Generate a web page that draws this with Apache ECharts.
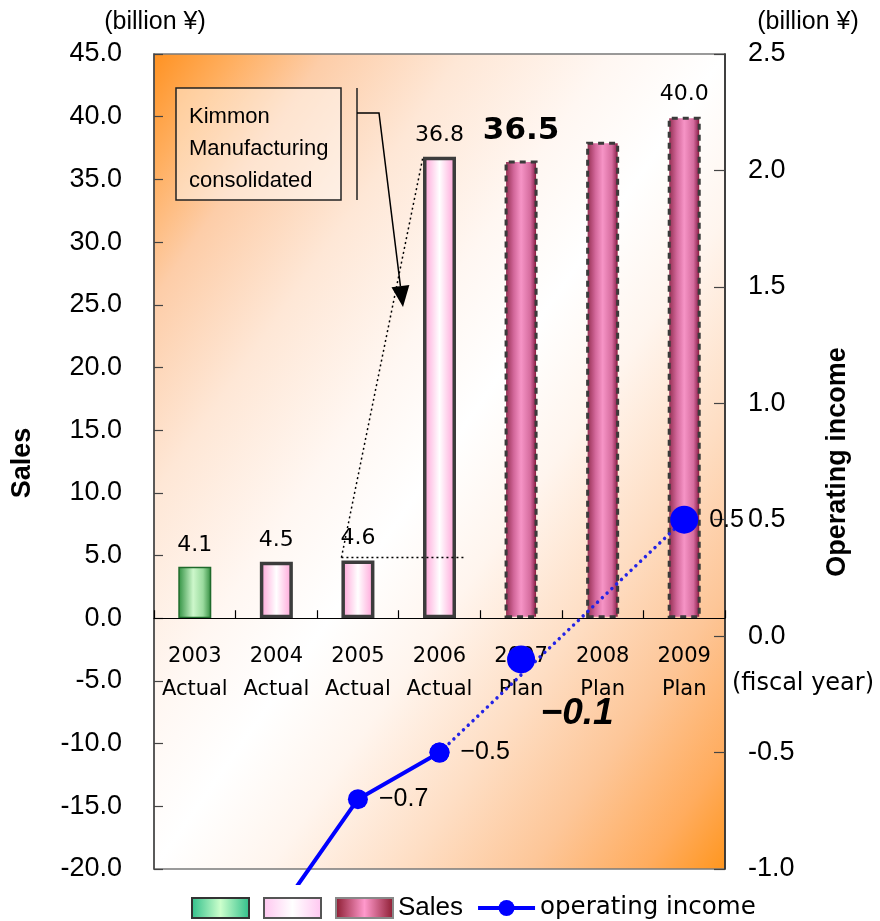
<!DOCTYPE html>
<html>
<head>
<meta charset="utf-8">
<title>Sales and operating income</title>
<script src="https://cdn.jsdelivr.net/npm/echarts@6/dist/echarts.min.js"></script>
<style>
  html, body { margin: 0; padding: 0; background: #ffffff; }
  #main { width: 880px; height: 921px; }
</style>
</head>
<body>
<div id="main"></div>
<script>
// ---- data ----
const years = ['2003', '2004', '2005', '2006', '2007', '2008', '2009'];
const phases = ['Actual', 'Actual', 'Actual', 'Actual', 'Plan', 'Plan', 'Plan'];
// sales, billion yen (left axis)
const sales = [4.1, 4.5, 4.6, 36.8, 36.5, 38.0, 40.0];
const salesLabelShown = [true, true, true, true, true, false, true];
// group of each sales bar: before consolidation / consolidated actual / plan
const salesGroup = ['early', 'actual', 'actual', 'actual', 'plan', 'plan', 'plan'];
// operating income, billion yen (right axis)
const incomeActual = [null, -1.2, -0.7, -0.5, null, null, null];
const incomeActualLabel = [false, false, true, true, false, false, false];
const incomeTrend = [null, null, null, -0.5, null, null, 0.5];
const incomeTrendLabel = [false, false, false, false, false, false, true];
const income2007 = [null, null, null, null, -0.1, null, null];
// axis ranges
const salesAxis = { min: -20, max: 45, interval: 5 };
const incomeAxis = { min: -1.0, max: 2.5, interval: 0.5 };

// ---- layout ----
const W = 880, H = 921;
const grid = { left: 154, right: 155, top: 54, bottom: 52 };
const lineClipBottom = 883;   // the income line is allowed to run a little below the frame
const barWidth = 33;

const plotH = H - grid.bottom - grid.top;
const pxPerIncome = plotH / (incomeAxis.max - incomeAxis.min);
const lineAxisMin = incomeAxis.max - (lineClipBottom - grid.top) / pxPerIncome;
// distance from the bottom of the frame up to the sales zero line
const zeroLift = plotH * (0 - salesAxis.min) / (salesAxis.max - salesAxis.min);

const fmtSigned = v => v.toFixed(1).replace('-', '\u2212');
const catLabels = years.map((y, i) => y + '\n' + phases[i]);

const hGrad = stops => new echarts.graphic.LinearGradient(0, 0, 1, 0,
  stops.map(s => ({ offset: s[0], color: s[1] })));

const styleEarly = {
  color: hGrad([[0, '#2F9040'], [0.45, '#CDF7CB'], [0.75, '#9ADB9E'], [1, '#2E8A3C']]),
  borderColor: '#1F6A2B', borderWidth: 1.5
};
const styleActual = {
  color: hGrad([[0, '#FF9ED6'], [0.5, '#FFFFFF'], [1, '#FF9ED6']]),
  borderColor: '#3C3C3C', borderWidth: 3.5
};
const stylePlan = {
  color: hGrad([[0, '#8A2545'], [0.28, '#D2679A'], [0.5, '#F694C6'], [0.78, '#D56C9E'], [0.9, '#A03563'], [1, '#7A0010']]),
  borderColor: '#3A3A3A', borderWidth: 3, borderType: [6, 5]
};

function barSeries(name, group, style) {
  return {
    name: name,
    type: 'bar',
    xAxisIndex: 0, yAxisIndex: 0,
    barWidth: barWidth,
    barGap: '-100%',
    itemStyle: style,
    z: 3,
    data: sales.map((v, i) => {
      if (salesGroup[i] !== group) return null;
      const big = years[i] === '2007';
      return {
        value: v,
        label: {
          show: salesLabelShown[i],
          position: 'top',
          distance: big ? 14 : 11,
          formatter: p => p.value.toFixed(1),
          fontFamily: 'DejaVu Sans',
          fontSize: big ? 31 : 22,
          fontWeight: big ? 'bold' : 'normal',
          color: '#000'
        }
      };
    })
  };
}

const bgGradient = (function () {
  // diagonal orange-white-orange wash, isolines parallel to the bottom-left/top-right diagonal
  const x0 = grid.left, y0 = grid.top;
  const w = W - grid.left - grid.right, h = plotH;
  const cx = x0 + w / 2, cy = y0 + h / 2;
  const len = Math.hypot(w, h);
  const ux = h / len, uy = w / len;
  const half = (w / 2) * ux + (h / 2) * uy;
  return new echarts.graphic.LinearGradient(
    cx - half * ux, cy - half * uy, cx + half * ux, cy + half * uy,
    [
      { offset: 0, color: '#FF9222' },
      { offset: 0.07, color: '#FFAE5E' },
      { offset: 0.15, color: '#FDCDA8' },
      { offset: 0.27, color: '#FEE7D6' },
      { offset: 0.4, color: '#FFF7F2' },
      { offset: 0.5, color: '#FFFFFF' },
      { offset: 0.6, color: '#FFF5EE' },
      { offset: 0.72, color: '#FEDEC4' },
      { offset: 0.83, color: '#FDC698' },
      { offset: 0.93, color: '#FFAC5E' },
      { offset: 1, color: '#FF961F' }
    ], true);
})();

const blue = '#0000FF';

const option = {
  animation: false,
  backgroundColor: '#ffffff',
  textStyle: { fontFamily: 'Liberation Sans, Arial, sans-serif', color: '#000' },
  grid: [
    {
      left: grid.left, right: grid.right, top: grid.top, bottom: grid.bottom,
      containLabel: false, outerBoundsMode: 'none',
      show: true, backgroundColor: bgGradient, borderColor: '#7A7A7A', borderWidth: 1.5
    },
    {
      left: grid.left, right: grid.right, top: grid.top, bottom: H - lineClipBottom,
      containLabel: false, outerBoundsMode: 'none',
      show: false
    }
  ],
  xAxis: [
    {
      type: 'category', gridIndex: 0, data: catLabels,
      position: 'bottom',
      offset: -zeroLift,
      axisLine: { show: true, onZero: false, lineStyle: { color: '#000', width: 1.2 } },
      axisTick: { show: true, inside: true, length: 8, lineStyle: { color: '#000', width: 1.2 } },
      axisLabel: {
        interval: 0, hideOverlap: false,
        margin: 22, fontFamily: 'DejaVu Sans', fontSize: 21, lineHeight: 33, color: '#000'
      },
      z: 4
    },
    {
      type: 'category', gridIndex: 1, data: catLabels, show: false
    }
  ],
  yAxis: [
    {
      type: 'value', gridIndex: 0, position: 'left',
      min: salesAxis.min, max: salesAxis.max, interval: salesAxis.interval,
      axisLine: { show: true, onZero: false, lineStyle: { color: '#444', width: 1.5 } },
      axisTick: { show: true, inside: true, length: 9, lineStyle: { color: '#444', width: 1.2 } },
      splitLine: { show: false },
      axisLabel: { margin: 32, fontSize: 27, color: '#000', formatter: v => v.toFixed(1) }
    },
    {
      type: 'value', gridIndex: 0, position: 'right',
      min: incomeAxis.min, max: incomeAxis.max, interval: incomeAxis.interval,
      axisLine: { show: true, onZero: false, lineStyle: { color: '#222', width: 1.5 } },
      axisTick: { show: true, inside: true, length: 11, lineStyle: { color: '#444', width: 1.2 } },
      splitLine: { show: false },
      axisLabel: { margin: 23, fontSize: 27, color: '#000', formatter: v => v.toFixed(1) }
    },
    {
      type: 'value', gridIndex: 1, show: false,
      min: lineAxisMin, max: incomeAxis.max,
      splitLine: { show: false }
    }
  ],
  legend: {
    left: 186, top: 890,
    itemWidth: 57, itemHeight: 20, itemGap: 13,
    formatter: name => (name === 'Sales' || name === 'operating income') ? name : '',
    textStyle: { color: '#000', fontSize: 26, fontFamily: 'Liberation Sans, Arial, sans-serif' },
    data: [
      {
        name: 'Sales (FY2003)', icon: 'rect',
        itemStyle: {
          color: hGrad([[0, '#2EBE8A'], [0.5, '#CCFFCC'], [1, '#2EBE8A']]),
          borderColor: '#333', borderWidth: 2
        }
      },
      {
        name: 'Sales (actual)', icon: 'rect',
        itemStyle: {
          color: hGrad([[0, '#FFC6F0'], [0.5, '#FFFFFF'], [1, '#FFC6F0']]),
          borderColor: '#555', borderWidth: 2
        }
      },
      {
        name: 'Sales', icon: 'rect',
        itemStyle: {
          color: hGrad([[0, '#8A1A2E'], [0.5, '#FF99CC'], [1, '#8A1A2E']]),
          borderColor: '#888', borderWidth: 2, borderType: 'solid'
        }
      },
      {
        name: 'operating income',
        lineStyle: { color: blue, width: 4 },
        textStyle: { fontFamily: 'DejaVu Sans', fontSize: 24.5, color: '#000' }
      }
    ]
  },
  series: [
    barSeries('Sales (FY2003)', 'early', styleEarly),
    barSeries('Sales (actual)', 'actual', styleActual),
    barSeries('Sales', 'plan', stylePlan),
    {
      name: 'operating income',
      type: 'line',
      xAxisIndex: 1, yAxisIndex: 2,
      z: 6,
      symbol: 'circle',
      symbolSize: 20,
      itemStyle: { color: blue, opacity: 1 },
      lineStyle: { color: blue, width: 4 },
      data: incomeActual.map((v, i) => ({
        value: v,
        label: {
          show: incomeActualLabel[i], position: 'right', distance: 11,
          fontSize: 25, color: '#000', formatter: p => fmtSigned(p.value)
        }
      }))
    },
    {
      name: 'operating income',
      type: 'line',
      xAxisIndex: 1, yAxisIndex: 2,
      z: 5,
      connectNulls: true,
      symbol: 'circle',
      itemStyle: { color: blue, opacity: 1 },
      lineStyle: { color: '#2323E6', width: 3.5, type: [0.01, 6.6], cap: 'round' },
      data: incomeTrend.map((v, i) => ({
        value: v,
        symbolSize: years[i] === '2009' ? 28 : 20,
        label: {
          show: incomeTrendLabel[i], position: 'right', distance: 11,
          fontSize: 25, color: '#000', formatter: p => fmtSigned(p.value)
        }
      }))
    },
    {
      name: 'operating income',
      type: 'scatter',
      xAxisIndex: 1, yAxisIndex: 2,
      z: 6,
      symbol: 'circle',
      symbolSize: 28,
      itemStyle: { color: blue, opacity: 1 },
      label: {
        show: true, position: 'inside', offset: [56, 54],
        fontSize: 37, fontWeight: 'bold', fontStyle: 'italic', color: '#000',
        formatter: p => fmtSigned(Array.isArray(p.value) ? p.value[1] : p.value)
      },
      data: income2007.map((v, i) => v === null ? null : [i, v])
    }
  ]
};

const chart = echarts.init(document.getElementById('main'), null, { renderer: 'canvas', width: W, height: H });
chart.setOption(option);

// ---- annotations: units, axis titles, consolidation note ----
const i2005 = years.indexOf('2005'), i2006 = years.indexOf('2006');
const top2005 = chart.convertToPixel({ xAxisIndex: 0, yAxisIndex: 0 }, [i2005, sales[i2005]]);
const top2006 = chart.convertToPixel({ xAxisIndex: 0, yAxisIndex: 0 }, [i2006, sales[i2006]]);
const left2005 = top2005[0] - barWidth / 2;
const left2006 = top2006[0] - barWidth / 2;
const right2006 = top2006[0] + barWidth / 2;
const guideY = top2005[1] - 3;

const dotted = { stroke: '#000', lineWidth: 1.5, lineDash: [2, 3] };

// arrow from the note down toward the jump in sales
const tip = [403, 307], tail = [379, 113];
const dx = tip[0] - tail[0], dy = tip[1] - tail[1], dl = Math.hypot(dx, dy);
const ux = dx / dl, uy = dy / dl;
const headLen = 21, headHalf = 9;
const base = [tip[0] - ux * headLen, tip[1] - uy * headLen];

chart.setOption({
  graphic: [
    { type: 'text', x: 155, y: 22, z: 10,
      style: { text: '(billion \u00A5)', font: '25px "Liberation Sans", Arial, sans-serif', fill: '#000', align: 'center', verticalAlign: 'middle' } },
    { type: 'text', x: 808, y: 22, z: 10,
      style: { text: '(billion \u00A5)', font: '25px "Liberation Sans", Arial, sans-serif', fill: '#000', align: 'center', verticalAlign: 'middle' } },
    { type: 'text', x: 803, y: 684, z: 10,
      style: { text: '(fiscal year)', font: '24px "DejaVu Sans", sans-serif', fill: '#000', align: 'center', verticalAlign: 'middle' } },
    { type: 'text', x: 23, y: 463, rotation: Math.PI / 2, z: 10,
      style: { text: 'Sales', font: 'bold 27px "Liberation Sans", Arial, sans-serif', fill: '#000', align: 'center', verticalAlign: 'middle' } },
    { type: 'text', x: 838, y: 462, rotation: Math.PI / 2, z: 10,
      style: { text: 'Operating income', font: 'bold 27px "Liberation Sans", Arial, sans-serif', fill: '#000', align: 'center', verticalAlign: 'middle' } },

    // note box
    { type: 'rect', z: 10, shape: { x: 176, y: 88, width: 165, height: 112 },
      style: { fill: 'rgba(255,255,255,0.45)', stroke: '#222', lineWidth: 1.5 } },
    { type: 'text', x: 189, y: 101, z: 11,
      style: { text: 'Kimmon\nManufacturing\nconsolidated', font: '22px "Liberation Sans", Arial, sans-serif',
        lineHeight: 32, fill: '#000', align: 'left', verticalAlign: 'top' } },
    { type: 'line', z: 10, shape: { x1: 357, y1: 88, x2: 357, y2: 200 }, style: { stroke: '#222', lineWidth: 1.5 } },
    { type: 'polyline', z: 10, shape: { points: [[357, 113], tail, base] }, style: { stroke: '#000', lineWidth: 1.5, fill: null } },
    { type: 'polygon', z: 10,
      shape: { points: [tip, [base[0] + uy * headHalf, base[1] - ux * headHalf], [base[0] - uy * headHalf, base[1] + ux * headHalf]] },
      style: { fill: '#000' } },

    // dotted guides from the 2005 bar to the 2006 bar
    { type: 'line', z: 9, shape: { x1: left2005, y1: guideY, x2: left2006, y2: top2006[1] }, style: dotted },
    { type: 'line', z: 9, shape: { x1: left2005, y1: guideY, x2: right2006 + 8, y2: guideY }, style: dotted }
  ]
});
</script>
</body>
</html>
